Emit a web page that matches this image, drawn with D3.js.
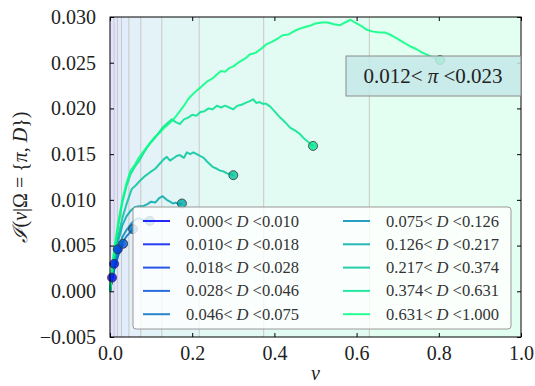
<!DOCTYPE html>
<html><head><meta charset="utf-8">
<script src="https://cdn.jsdelivr.net/npm/d3@7"></script>
<style>body{margin:0;background:#fff}svg{display:block}</style>
</head><body><svg id="c" width="535" height="386"></svg>
<script>
const binEdges = [0, 0.010, 0.018, 0.028, 0.046, 0.075, 0.126, 0.217, 0.374, 0.631, 1.000];
const legendLabels = ["0.000","0.010","0.018","0.028","0.046","0.075","0.126","0.217","0.374","0.631","1.000"];
const xTicks = [0, 0.2, 0.4, 0.6, 0.8, 1.0];
const yTicks = [-0.005, 0, 0.005, 0.010, 0.015, 0.020, 0.025, 0.030];
const boxLabel = "0.012< π <0.023";

const v1 = [0, 0.003, 0.005];
const i1 = [0, 0.0009, 0.0015];
const v2 = [0, 0.005, 0.010];
const i2 = [0, 0.0016, 0.0030];
const v3 = [0, 0.005, 0.010, 0.015, 0.019];
const i3 = [0, 0.0014, 0.0026, 0.0037, 0.0046];
const v4 = [0, 0.005, 0.010, 0.020, 0.026, 0.032];
const i4 = [0, 0.0013, 0.0023, 0.0039, 0.0046, 0.0052];
const v5 = [0, 0.005, 0.010, 0.020, 0.030, 0.040, 0.050, 0.056];
const i5 = [0, 0.0014, 0.0025, 0.0042, 0.0053, 0.0060, 0.0065, 0.0068];
const v6 = [0, 0.005, 0.010, 0.020, 0.030, 0.040, 0.050, 0.060, 0.070, 0.080, 0.090, 0.097];
const i6 = [0, 0.0014, 0.0026, 0.0046, 0.0059, 0.0067, 0.0073, 0.0078, 0.0080, 0.0078, 0.0079, 0.0077];
const v7 = [0, 0.005, 0.010, 0.020, 0.030, 0.040, 0.050, 0.060, 0.070, 0.080, 0.090, 0.100, 0.110, 0.120, 0.128, 0.138, 0.146, 0.153, 0.160, 0.168, 0.175];
const i7 = [0, 0.0016, 0.0030, 0.0055, 0.0072, 0.0082, 0.0088, 0.0092, 0.0093, 0.0093, 0.0095, 0.0098, 0.0097, 0.0102, 0.0104, 0.0100, 0.0098, 0.0096, 0.0097, 0.0095, 0.0096];
const v8 = [0, 0.005, 0.010, 0.020, 0.030, 0.040, 0.053, 0.063, 0.073, 0.085, 0.097, 0.110, 0.122, 0.130, 0.138, 0.146, 0.153, 0.162, 0.170, 0.180, 0.187, 0.195, 0.203, 0.211, 0.219, 0.228, 0.236, 0.243, 0.250, 0.260, 0.268, 0.277, 0.285, 0.293, 0.300];
const i8 = [0, 0.0019, 0.0035, 0.0060, 0.0080, 0.0095, 0.0112, 0.0116, 0.0121, 0.0126, 0.0130, 0.0134, 0.0140, 0.0144, 0.0147, 0.0143, 0.0145, 0.0148, 0.0149, 0.0146, 0.0152, 0.0150, 0.0152, 0.0150, 0.0148, 0.0146, 0.0142, 0.0139, 0.0136, 0.0134, 0.0132, 0.0131, 0.0129, 0.0128, 0.0127];
const v9 = [0, 0.005, 0.010, 0.020, 0.030, 0.040, 0.050, 0.060, 0.070, 0.080, 0.090, 0.100, 0.110, 0.120, 0.130, 0.140, 0.150, 0.160, 0.170, 0.180, 0.190, 0.200, 0.210, 0.220, 0.230, 0.240, 0.250, 0.260, 0.270, 0.280, 0.290, 0.300, 0.310, 0.320, 0.330, 0.340, 0.348, 0.356, 0.364, 0.372, 0.380, 0.390, 0.400, 0.414, 0.426, 0.438, 0.450, 0.462, 0.470, 0.478, 0.486, 0.494];
const i9 = [0, 0.0022, 0.0042, 0.0072, 0.0097, 0.0115, 0.0128, 0.0136, 0.0142, 0.0150, 0.0157, 0.0163, 0.0168, 0.0174, 0.0180, 0.0184, 0.0188, 0.0185, 0.0183, 0.0188, 0.0190, 0.0193, 0.0192, 0.0196, 0.0197, 0.0200, 0.0199, 0.0203, 0.0201, 0.0203, 0.0201, 0.0199, 0.0203, 0.0204, 0.0206, 0.0208, 0.0210, 0.0206, 0.0207, 0.0205, 0.0205, 0.0202, 0.0197, 0.0190, 0.0185, 0.0179, 0.0176, 0.0172, 0.0168, 0.0165, 0.0162, 0.0159];
const v10 = [0, 0.005, 0.010, 0.020, 0.030, 0.040, 0.050, 0.060, 0.070, 0.080, 0.090, 0.100, 0.110, 0.120, 0.130, 0.140, 0.150, 0.160, 0.170, 0.180, 0.190, 0.200, 0.210, 0.220, 0.235, 0.250, 0.260, 0.270, 0.280, 0.290, 0.300, 0.315, 0.330, 0.340, 0.355, 0.370, 0.380, 0.395, 0.410, 0.420, 0.435, 0.450, 0.460, 0.475, 0.490, 0.500, 0.515, 0.530, 0.545, 0.560, 0.572, 0.585, 0.600, 0.612, 0.625, 0.640, 0.657, 0.670, 0.685, 0.700, 0.715, 0.730, 0.745, 0.760, 0.775, 0.790, 0.803];
const i10 = [0, 0.0025, 0.0045, 0.0075, 0.0100, 0.0118, 0.0132, 0.0138, 0.0146, 0.0152, 0.0158, 0.0164, 0.0169, 0.0173, 0.0178, 0.0182, 0.0186, 0.0191, 0.0197, 0.0203, 0.0210, 0.0215, 0.0219, 0.0223, 0.0229, 0.0233, 0.0237, 0.0241, 0.0240, 0.0244, 0.0246, 0.0251, 0.0255, 0.0259, 0.0261, 0.0266, 0.0270, 0.0273, 0.0277, 0.0280, 0.0281, 0.0285, 0.0287, 0.0289, 0.0291, 0.0293, 0.0294, 0.0294, 0.0292, 0.0291, 0.0294, 0.0297, 0.0293, 0.0290, 0.0286, 0.0284, 0.0283, 0.0283, 0.0280, 0.0276, 0.0272, 0.0268, 0.0265, 0.0261, 0.0258, 0.0255, 0.0253];

const seriesV = [v1, v2, v3, v4, v5, v6, v7, v8, v9, v10];
const seriesI = [i1, i2, i3, i4, i5, i6, i7, i8, i9, i10];

const svg = d3.select("#c");
const L = 110, T = 17, R = 521, B = 337;
const x = d3.scaleLinear().domain([0, 1]).range([L, R]);
const y = d3.scaleLinear().domain([-0.005, 0.030]).range([B, T]);
const winter = t => d3.rgb(0, Math.round(255 * t), Math.round(255 * (1 - 0.5 * t)));
const colors = d3.range(10).map(i => winter(i / 9));
const serif = "'Liberation Serif','DejaVu Serif',serif";

// background bands
svg.append("g").selectAll("rect").data(d3.range(10)).join("rect")
  .attr("x", i => x(binEdges[i])).attr("y", T)
  .attr("width", i => x(binEdges[i + 1]) - x(binEdges[i])).attr("height", B - T)
  .attr("fill", i => colors[i]).attr("fill-opacity", 0.11);
svg.append("g").selectAll("line").data(binEdges.slice(1, -1)).join("line")
  .attr("x1", d => x(d)).attr("x2", d => x(d)).attr("y1", T).attr("y2", B)
  .attr("stroke", "#c8c8c8").attr("stroke-width", 1);

// curves
const line = d3.line().x(d => x(d[0])).y(d => y(d[1]));
const gC = svg.append("g");
seriesV.forEach((vs, k) => {
  const pts = vs.map((v, j) => [v, seriesI[k][j]]);
  gC.append("path").attr("d", line(pts)).attr("fill", "none")
    .attr("stroke", colors[k]).attr("stroke-opacity", 0.85).attr("stroke-width", 2)
    .attr("stroke-linejoin", "round");
});
seriesV.forEach((vs, k) => {
  const n = vs.length - 1;
  gC.append("circle").attr("cx", x(vs[n])).attr("cy", y(seriesI[k][n])).attr("r", 4.5)
    .attr("fill", colors[k]).attr("fill-opacity", 0.8)
    .attr("stroke", "#333").attr("stroke-opacity", 0.8).attr("stroke-width", 1);
});

// frame and ticks
svg.append("rect").attr("x", L).attr("y", T).attr("width", R - L).attr("height", B - T)
  .attr("fill", "none").attr("stroke", "#000").attr("stroke-width", 1);
const axB = svg.append("g").attr("transform", `translate(0,${B})`)
  .call(d3.axisBottom(x).tickValues(xTicks).tickSize(-4).tickPadding(10).tickFormat(d3.format(".1f")));
const axT = svg.append("g").attr("transform", `translate(0,${T})`)
  .call(d3.axisTop(x).tickValues(xTicks).tickSize(-4).tickFormat(""));
const axL = svg.append("g").attr("transform", `translate(${L},0)`)
  .call(d3.axisLeft(y).tickValues(yTicks).tickSize(-4).tickPadding(14).tickFormat(d => d3.format(".3f")(d).replace("-", "−")));
const axR = svg.append("g").attr("transform", `translate(${R},0)`)
  .call(d3.axisRight(y).tickValues(yTicks).tickSize(-4).tickFormat(""));
[axB, axT, axL, axR].forEach(a => {
  a.select(".domain").remove();
  a.selectAll("line").attr("stroke", "#000");
  a.selectAll("text").attr("font-family", serif).attr("font-size", 20).attr("fill", "#222");
});
axB.selectAll("text").attr("dy", "0.71em").attr("y", 9);

// axis labels
svg.append("text").attr("x", (L + R) / 2).attr("y", 380).attr("text-anchor", "middle")
  .attr("font-family", serif).attr("font-size", 20).attr("font-style", "italic").attr("fill", "#222").text("v");
const yl = svg.append("text").attr("transform", `translate(27,${(T + B) / 2}) rotate(-90)`)
  .attr("text-anchor", "middle").attr("font-family", serif).attr("font-size", 20).attr("fill", "#222");
yl.append("tspan").attr("font-style", "italic").text("ℐ");
yl.append("tspan").text("(");
yl.append("tspan").attr("font-style", "italic").text("v");
yl.append("tspan").text("|Ω = {");
yl.append("tspan").attr("font-style", "italic").text("π");
yl.append("tspan").text(", ");
yl.append("tspan").attr("font-style", "italic").text("D");
yl.append("tspan").text("})");

// legend
const lg = svg.append("g");
lg.append("rect").attr("x", 133).attr("y", 207).attr("width", 378).attr("height", 122).attr("rx", 3)
  .attr("fill", "#fff").attr("fill-opacity", 0.8).attr("stroke", "#999").attr("stroke-width", 1);
d3.range(10).forEach(k => {
  const col = Math.floor(k / 5), row = k % 5;
  const lx = 143 + col * 200, ly = 221 + row * 23.3;
  lg.append("line").attr("x1", lx).attr("x2", lx + 27).attr("y1", ly).attr("y2", ly)
    .attr("stroke", colors[k]).attr("stroke-opacity", 0.85).attr("stroke-width", 2);
  const t = lg.append("text").attr("x", lx + 43).attr("y", ly + 5.5)
    .attr("font-family", serif).attr("font-size", 16.5).attr("fill", "#333");
  t.append("tspan").text(legendLabels[k] + "< ");
  t.append("tspan").attr("font-style", "italic").text("D");
  t.append("tspan").text(" <" + legendLabels[k + 1]);
});

// pi box
svg.append("rect").attr("x", 346).attr("y", 56).attr("width", R - 346).attr("height", 40)
  .attr("fill", "#c4e8e8").attr("fill-opacity", 0.85).attr("stroke", "#8a8a8a").attr("stroke-width", 1);
const bt = svg.append("text").attr("x", 433).attr("y", 83).attr("text-anchor", "middle")
  .attr("font-family", serif).attr("font-size", 21).attr("fill", "#222");
bt.append("tspan").text("0.012< ");
bt.append("tspan").attr("font-style", "italic").text("π");
bt.append("tspan").text(" <0.023");
</script></body></html>
